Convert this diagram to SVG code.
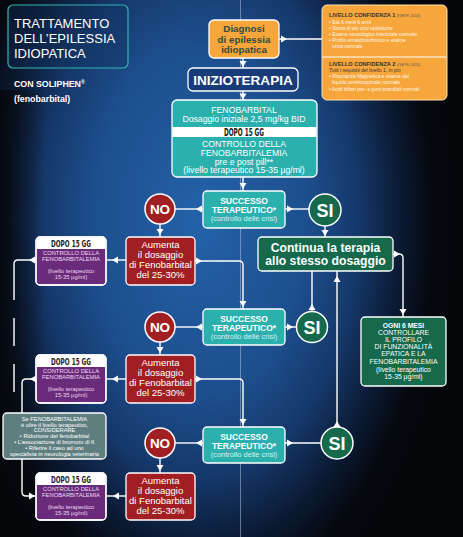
<svg xmlns="http://www.w3.org/2000/svg" xmlns:xlink="http://www.w3.org/1999/xlink" width="463" height="537" viewBox="0 0 463 537">
<defs>
<radialGradient id="bg" gradientUnits="userSpaceOnUse" cx="0" cy="0" r="1" gradientTransform="translate(200,220) scale(265,430)">
<stop offset="0" stop-color="#2462a8"/>
<stop offset="0.4" stop-color="#1d4f8e"/>
<stop offset="0.6" stop-color="#15386a"/>
<stop offset="0.76" stop-color="#0b1a33"/>
<stop offset="0.88" stop-color="#05080f"/>
<stop offset="1" stop-color="#040609"/>
</radialGradient>
<linearGradient id="leftdark" x1="0" y1="0" x2="1" y2="0">
<stop offset="0" stop-color="#05070b" stop-opacity="0.85"/>
<stop offset="1" stop-color="#05070b" stop-opacity="0"/>
</linearGradient>
<path id="ah" d="M0,0 L-6,-3.5 L-6,3.5 Z" fill="#fff"/>
<path id="band" d="M0.6,12 V4 Q0.6,0.6 4,0.6 H66 Q69.4,0.6 69.4,4 V12 Z" fill="#fff"/>
<style>
text{font-family:"Liberation Sans",Arial,Helvetica,sans-serif}
.b{font-weight:bold}
.c{text-anchor:middle}
.w{fill:#fff}
.dopo{font-family:"DejaVu Sans Condensed","Liberation Sans Narrow","Liberation Sans",sans-serif;font-weight:bold;fill:#1a1a1a;text-anchor:middle}
.box{stroke:#fff;stroke-width:1.3}
.orange{fill:#f6a63b}
.teal{fill:#2bb0ad}
.red{fill:#a11f22}
.purple{fill:#6b2b7b}
.green{fill:#16694b}
.navy{fill:#173c79}
.gray{fill:#5f7e80}
.con{stroke:#fff;stroke-width:1.4;fill:none}
.succ{font-size:8.5px;font-weight:bold;fill:#fff;text-anchor:middle}
.crisi{font-size:7.5px;fill:#d7f1f0;text-anchor:middle}
.aum{font-size:9.5px;fill:#fff;text-anchor:middle}
.pt{font-size:5.8px;fill:#ecd6f0;text-anchor:middle}
.conf{font-size:5px;fill:#fff6e6}
.confh{font-size:5.6px;font-weight:bold;fill:#333}
.confs{font-size:3.8px;font-weight:normal;fill:#555}
.circ{font-weight:bold;fill:#fff;text-anchor:middle}
.grt{font-size:5.7px;fill:#fff;text-anchor:middle}
.og{font-size:6.8px;fill:#fff;text-anchor:middle}
.fe{font-size:8.7px;fill:#fff;text-anchor:middle}
</style>
</defs>

<rect x="0" y="0" width="463" height="537" fill="url(#bg)"/>
<rect x="0" y="90" width="45" height="447" fill="url(#leftdark)"/>
<line x1="240.5" y1="0" x2="240.5" y2="537" stroke="#a9bdd6" stroke-width="0.8" stroke-opacity="0.7"/>

<g id="title">
<rect x="8" y="5" width="120" height="63" rx="5" fill="#123462" fill-opacity="0.35" stroke="#35b3b3" stroke-width="1.2"/>
<text x="14" y="28" font-size="13" class="w">TRATTAMENTO</text>
<text x="14" y="43" font-size="13" class="w">DELL’EPILESSIA</text>
<text x="14" y="58" font-size="13" class="w">IDIOPATICA</text>
<text x="14" y="87" font-size="8.8" class="w b">CON SOLIPHEN<tspan font-size="5" dy="-3">®</tspan></text>
<text x="14" y="102" font-size="8.8" class="w b">(fenobarbital)</text>
</g>

<g id="connectors">
<line class="con" x1="279" y1="39" x2="322" y2="39"/>
<use href="#ah" transform="translate(287,39)"/>
<line class="con" x1="243" y1="58" x2="243" y2="68"/>
<use href="#ah" transform="translate(243,67) rotate(90)"/>
<line class="con" x1="243" y1="91" x2="243" y2="100"/>
<use href="#ah" transform="translate(243,99.5) rotate(90)"/>
<line class="con" x1="243" y1="177" x2="243" y2="191"/>
<use href="#ah" transform="translate(243,189) rotate(90)"/>
<line class="con" x1="175" y1="209" x2="203" y2="209"/>
<use href="#ah" transform="translate(196,209) rotate(180)"/>
<line class="con" x1="285" y1="209" x2="309" y2="209"/>
<use href="#ah" transform="translate(293,209)"/>
<line class="con" x1="160" y1="224" x2="160" y2="237"/>
<use href="#ah" transform="translate(160,235) rotate(90)"/>
<line class="con" x1="325" y1="226" x2="325" y2="237"/>
<use href="#ah" transform="translate(325,236) rotate(90)"/>
<line class="con" x1="126" y1="260" x2="106" y2="260"/>
<use href="#ah" transform="translate(112,260) rotate(180)"/>
<path class="con" d="M36,260 H18 Q14,260 14,264 V300"/>
<use href="#ah" transform="translate(29,260) rotate(180)"/>
<path class="con" d="M14,318 V346 M14,364 V392"/>
<path class="con" d="M195,261 H239 Q243,261 243,265 V309"/>
<use href="#ah" transform="translate(202,261)"/>
<use href="#ah" transform="translate(243,307) rotate(90)"/>
<path class="con" d="M393,254 H399 Q403,254 403,258 V317"/>
<use href="#ah" transform="translate(400,254)"/>
<use href="#ah" transform="translate(403,315) rotate(90)"/>
<line class="con" x1="175" y1="327" x2="203" y2="327"/>
<use href="#ah" transform="translate(196,327) rotate(180)"/>
<line class="con" x1="285" y1="327" x2="297" y2="327"/>
<use href="#ah" transform="translate(293,327)"/>
<line class="con" x1="312" y1="311" x2="312" y2="271"/>
<use href="#ah" transform="translate(312,304) rotate(-90)"/>
<line class="con" x1="160" y1="342" x2="160" y2="355"/>
<use href="#ah" transform="translate(160,353) rotate(90)"/>
<line class="con" x1="126" y1="379" x2="106" y2="379"/>
<use href="#ah" transform="translate(112,379) rotate(180)"/>
<path class="con" d="M36,379 H26 Q22,379 22,383 V413"/>
<use href="#ah" transform="translate(30,379) rotate(180)"/>
<path class="con" d="M195,379 H239 Q243,379 243,383 V427"/>
<use href="#ah" transform="translate(202,379)"/>
<use href="#ah" transform="translate(243,425) rotate(90)"/>
<line class="con" x1="175" y1="443" x2="203" y2="443"/>
<use href="#ah" transform="translate(196,443) rotate(180)"/>
<line class="con" x1="285" y1="443" x2="321" y2="443"/>
<use href="#ah" transform="translate(293,443)"/>
<line class="con" x1="337" y1="427" x2="337" y2="271"/>
<use href="#ah" transform="translate(337,421) rotate(-90)"/>
<use href="#ah" transform="translate(337,276) rotate(-90)"/>
<line class="con" x1="160" y1="458" x2="160" y2="473"/>
<use href="#ah" transform="translate(160,471) rotate(90)"/>
<line class="con" x1="126" y1="496" x2="106" y2="496"/>
<use href="#ah" transform="translate(113,496) rotate(180)"/>
<path class="con" d="M22,459 V492 Q22,496 26,496 H36"/>
<use href="#ah" transform="translate(35,496)"/>
</g>

<g id="diagnosi">
<rect class="box orange" x="209" y="20" width="70" height="38" rx="5"/>
<text class="b c" x="244" y="32" font-size="9.8" fill="#2e4a3e">Diagnosi</text>
<text class="b c" x="244" y="42.5" font-size="9.8" fill="#2e4a3e">di epilessia</text>
<text class="b c" x="244" y="53" font-size="9.8" fill="#2e4a3e">idiopatica</text>
</g>

<g id="confidenza">
<rect x="322" y="5" width="125" height="95" rx="5" class="orange" stroke="#fde2b0" stroke-width="1"/>
<line x1="322.5" y1="57" x2="446.5" y2="57" stroke="#fff" stroke-width="1"/>
<text x="329" y="17" class="confh">LIVELLO CONFIDENZA 1 <tspan class="confs">(IVETF, 2015)</tspan></text>
<text x="329" y="23.5" class="conf">• Età 6 mesi-6 anni</text>
<text x="329" y="29.5" class="conf">• Storia di più crisi epilettiche</text>
<text x="329" y="35.5" class="conf">• Esame neurologico interictale normale</text>
<text x="329" y="42" class="conf">• Profilo ematobiochimico e esame</text>
<text x="332" y="48" class="conf">urina normale</text>
<text x="329" y="66" class="confh">LIVELLO CONFIDENZA 2 <tspan class="confs">(IVETF, 2015)</tspan></text>
<text x="329" y="72" class="conf" style="fill:#3a3a3a">Tutti i requisiti del livello 1, in più</text>
<text x="329" y="78" class="conf">• Risonanza Magnetica e esame del</text>
<text x="332" y="84" class="conf">liquido cerebrospinale normale</text>
<text x="329" y="91" class="conf">• Acidi biliari pre- e post-prandiali normali</text>
</g>

<g id="inizioterapia">
<rect class="box navy" x="188" y="68" width="110" height="23" rx="5" stroke-width="1.6"/>
<text class="b c w" x="243" y="85" font-size="13.6">INIZIOTERAPIA</text>
</g>

<g id="fenobarbital">
<rect class="box teal" x="172" y="100" width="145" height="77" rx="5"/>
<rect x="172.6" y="127" width="143.8" height="10" fill="#fff"/>
<text class="fe" x="244" y="112.5">FENOBARBITAL</text>
<text class="fe" x="244" y="122">Dosaggio iniziale 2,5 mg/kg BID</text>
<text class="dopo" x="244" y="135.5" font-size="10" textLength="40" lengthAdjust="spacingAndGlyphs">DOPO 15 GG</text>
<text class="fe" x="244" y="146.5">CONTROLLO DELLA</text>
<text class="fe" x="244" y="155.5">FENOBARBITALEMIA</text>
<text class="fe" x="244" y="164.5">pre e post pill**</text>
<text class="fe" x="244" y="173">(livello terapeutico 15-35 µg/ml)</text>
</g>

<g id="successo1">
<rect class="box teal" x="203" y="191" width="82" height="37" rx="4"/>
<text class="succ" x="244" y="203.5">SUCCESSO</text>
<text class="succ" x="244" y="212.5">TERAPEUTICO*</text>
<text class="crisi" x="244" y="220.5">(controllo delle crisi)</text>
</g>
<g id="no1">
<circle cx="160" cy="209" r="15" class="red" stroke="#fff" stroke-width="1.5"/>
<text class="circ" x="160" y="214" font-size="13.5">NO</text>
</g>
<g id="si1">
<circle cx="325" cy="210" r="16" class="green" stroke="#fff" stroke-width="1.5"/>
<text class="circ" x="325" y="216.5" font-size="18">SI</text>
</g>

<g id="continua">
<rect class="box green" x="258" y="237" width="135" height="34" rx="4" stroke-width="1.5"/>
<text class="b c w" x="325.5" y="252" font-size="12.2">Continua la terapia</text>
<text class="b c w" x="325.5" y="265" font-size="12.2">allo stesso dosaggio</text>
</g>

<g id="aumenta1">
<rect class="box red" x="126" y="237" width="69" height="48" rx="4"/>
<text class="aum" x="160.5" y="248">Aumenta</text>
<text class="aum" x="160.5" y="258">il dosaggio</text>
<text class="aum" x="160.5" y="267.5">di Fenobarbital</text>
<text class="aum" x="160.5" y="277.5">del 25-30%</text>
</g>
<g id="controllo1">
<rect class="box purple" x="36" y="237" width="70" height="48" rx="4"/>
<use href="#band" x="36" y="237"/>
<rect x="36" y="237" width="70" height="48" rx="4" fill="none" class="box"/>
<text class="dopo" x="71" y="247" font-size="9.5" textLength="40" lengthAdjust="spacingAndGlyphs">DOPO 15 GG</text>
<text class="pt" x="71" y="255">CONTROLLO DELLA</text>
<text class="pt" x="71" y="261">FENOBARBITALEMIA</text>
<text class="pt" x="71" y="273">(livello terapeutico</text>
<text class="pt" x="71" y="279">15-35 µg/ml)</text>
</g>

<g id="successo2">
<rect class="box teal" x="203" y="309" width="82" height="36" rx="4"/>
<text class="succ" x="244" y="321.5">SUCCESSO</text>
<text class="succ" x="244" y="330.5">TERAPEUTICO*</text>
<text class="crisi" x="244" y="338.5">(controllo delle crisi)</text>
</g>
<g id="no2">
<circle cx="160" cy="327" r="15" class="red" stroke="#fff" stroke-width="1.5"/>
<text class="circ" x="160" y="332" font-size="13.5">NO</text>
</g>
<g id="si2">
<circle cx="312" cy="327" r="15.5" class="green" stroke="#fff" stroke-width="1.5"/>
<text class="circ" x="312" y="333.5" font-size="18">SI</text>
</g>

<g id="ogni6mesi">
<rect class="box green" x="361" y="317" width="85" height="69" rx="4"/>
<text class="og b" x="403.5" y="328">OGNI 6 MESI</text>
<text class="og" x="403.5" y="335">CONTROLLARE</text>
<text class="og" x="403.5" y="342">IL PROFILO</text>
<text class="og" x="403.5" y="349">DI FUNZIONALITÀ</text>
<text class="og" x="403.5" y="356">EPATICA E LA</text>
<text class="og" x="403.5" y="363.5">FENOBARBITALEMIA</text>
<text class="og" x="403.5" y="372" font-size="5.8">(livello terapeutico</text>
<text class="og" x="403.5" y="378.5" font-size="5.8">15-35 µg/ml)</text>
</g>

<g id="aumenta2">
<rect class="box red" x="126" y="355" width="69" height="48" rx="4"/>
<text class="aum" x="160.5" y="366">Aumenta</text>
<text class="aum" x="160.5" y="376">il dosaggio</text>
<text class="aum" x="160.5" y="385.5">di Fenobarbital</text>
<text class="aum" x="160.5" y="395.5">del 25-30%</text>
</g>
<g id="controllo2">
<rect class="box purple" x="36" y="355" width="70" height="48" rx="4"/>
<use href="#band" x="36" y="355"/>
<rect x="36" y="355" width="70" height="48" rx="4" fill="none" class="box"/>
<text class="dopo" x="71" y="365" font-size="9.5" textLength="40" lengthAdjust="spacingAndGlyphs">DOPO 15 GG</text>
<text class="pt" x="71" y="373">CONTROLLO DELLA</text>
<text class="pt" x="71" y="379">FENOBARBITALEMIA</text>
<text class="pt" x="71" y="391">(livello terapeutico</text>
<text class="pt" x="71" y="397">15-35 µg/ml)</text>
</g>

<g id="considerare">
<rect class="box gray" x="3" y="413" width="103" height="46" rx="4"/>
<text class="grt" x="54.5" y="421">Se FENOBARBITALEMIA</text>
<text class="grt" x="54.5" y="426.5">è oltre il livello terapeutico,</text>
<text class="grt" x="54.5" y="432">CONSIDERARE</text>
<text class="grt" x="54.5" y="437.5">• Riduzione del fenobarbital</text>
<text class="grt" x="54.5" y="443.5">• L’associazione di bromuro di K</text>
<text class="grt" x="54.5" y="449.5">• Riferire il caso ad uno</text>
<text class="grt" x="54.5" y="456">specialista in neurologia veterinaria</text>
</g>

<g id="successo3">
<rect class="box teal" x="203" y="427" width="82" height="36" rx="4"/>
<text class="succ" x="244" y="439.5">SUCCESSO</text>
<text class="succ" x="244" y="448.5">TERAPEUTICO*</text>
<text class="crisi" x="244" y="456.5">(controllo delle crisi)</text>
</g>
<g id="no3">
<circle cx="160" cy="443" r="15" class="red" stroke="#fff" stroke-width="1.5"/>
<text class="circ" x="160" y="448" font-size="13.5">NO</text>
</g>
<g id="si3">
<circle cx="337" cy="443" r="16" class="green" stroke="#fff" stroke-width="1.5"/>
<text class="circ" x="337" y="449.5" font-size="18">SI</text>
</g>

<g id="aumenta3">
<rect class="box red" x="126" y="473" width="69" height="47" rx="4"/>
<text class="aum" x="160.5" y="484">Aumenta</text>
<text class="aum" x="160.5" y="494">il dosaggio</text>
<text class="aum" x="160.5" y="503.5">di Fenobarbital</text>
<text class="aum" x="160.5" y="513.5">del 25-30%</text>
</g>
<g id="controllo3">
<rect class="box purple" x="36" y="473" width="70" height="47" rx="4"/>
<use href="#band" x="36" y="473"/>
<rect x="36" y="473" width="70" height="47" rx="4" fill="none" class="box"/>
<text class="dopo" x="71" y="483" font-size="9.5" textLength="40" lengthAdjust="spacingAndGlyphs">DOPO 15 GG</text>
<text class="pt" x="71" y="491">CONTROLLO DELLA</text>
<text class="pt" x="71" y="497">FENOBARBITALEMIA</text>
<text class="pt" x="71" y="509">(livello terapeutico</text>
<text class="pt" x="71" y="515">15-35 µg/ml)</text>
</g>
</svg>
